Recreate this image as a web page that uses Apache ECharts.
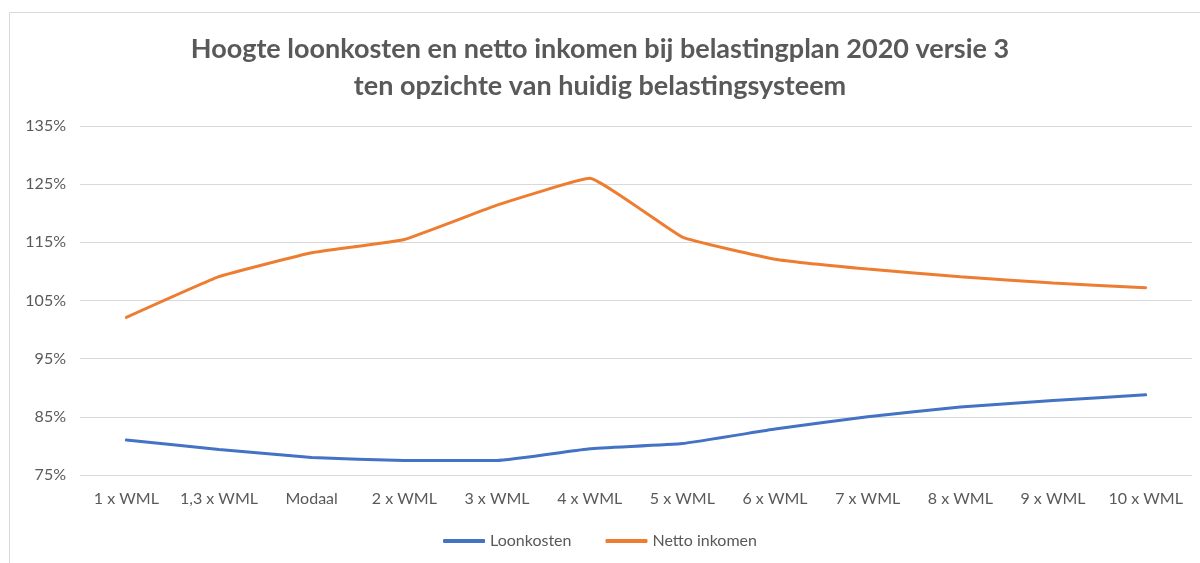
<!DOCTYPE html>
<html lang="nl">

<head>
    <meta charset="UTF-8">
    <title>Loonkosten en netto inkomen</title>
    <script src="https://cdn.jsdelivr.net/npm/echarts@6/dist/echarts.min.js"></script>
    <style>
        html,
        body {
            margin: 0px;
            width: 100%;
            height: 100%;
            background-color: white;
        }

        #chart {
            width: 1200px;
            height: 563px;
        }
    </style>
</head>

<body>
    <div id="chart"></div>
    <script>
        var categories = ['1 x WML', '1,3 x WML', 'Modaal', '2 x WML', '3 x WML', '4 x WML',
            '5 x WML', '6 x WML', '7 x WML', '8 x WML', '9 x WML', '10 x WML'];
        var loonkosten = [81.0, 79.4, 78.0, 77.5, 77.5, 79.5, 80.4, 82.9, 85.0, 86.7, 87.8, 88.8];
        var nettoInkomen = [102.1, 109.1, 113.2, 115.5, 121.4, 126.0, 115.9, 112.1, 110.4, 109.1, 108.0, 107.2];
        var yTicks = { min: 75, max: 135, step: 10 };

        var textColor = '#595959';
        var font = 'Lato, "Open Sans", sans-serif';

        var chart = echarts.init(document.getElementById('chart'));
        chart.setOption({
            animation: false,
            title: {
                text: 'Hoogte loonkosten en netto inkomen bij belastingplan 2020 versie 3\nten opzichte van huidig belastingsysteem',
                left: 'center',
                top: 26,
                textStyle: {
                    color: textColor,
                    fontFamily: font,
                    fontWeight: 'bold',
                    fontSize: 27,
                    lineHeight: 37
                }
            },
            graphic: [{
                type: 'rect',
                shape: { x: 9.5, y: 12.5, width: 1300, height: 700 },
                style: { fill: 'none', stroke: '#d9d9d9', lineWidth: 1 },
                silent: true
            }],
            legend: {
                bottom: 9,
                left: 'center',
                itemWidth: 42,
                itemHeight: 4,
                itemGap: 34,
                icon: 'roundRect',
                textStyle: { color: textColor, fontFamily: font, fontSize: 16 },
                data: ['Loonkosten', 'Netto inkomen']
            },
            grid: {
                left: 80,
                right: 8,
                top: 126,
                bottom: 88
            },
            xAxis: {
                type: 'category',
                data: categories,
                boundaryGap: true,
                axisLine: { show: false },
                axisTick: { show: false },
                axisLabel: {
                    color: textColor,
                    fontFamily: font,
                    fontSize: 16,
                    margin: 16,
                    interval: 0
                }
            },
            yAxis: {
                type: 'value',
                min: yTicks.min,
                max: yTicks.max,
                interval: yTicks.step,
                axisLine: { show: false },
                axisTick: { show: false },
                splitLine: { lineStyle: { color: '#d9d9d9', width: 1 } },
                axisLabel: {
                    color: textColor,
                    fontFamily: font,
                    fontSize: 16,
                    margin: 14,
                    formatter: '{value}%'
                }
            },
            series: [{
                name: 'Loonkosten',
                type: 'line',
                data: loonkosten,
                smooth: 0.1,
                symbol: 'none',
                lineStyle: { color: '#4472c4', width: 3, cap: 'round' },
                itemStyle: { color: '#4472c4' }
            }, {
                name: 'Netto inkomen',
                type: 'line',
                data: nettoInkomen,
                smooth: 0.1,
                symbol: 'none',
                lineStyle: { color: '#ed7d31', width: 3, cap: 'round' },
                itemStyle: { color: '#ed7d31' }
            }]
        });
    </script>
</body>

</html>
